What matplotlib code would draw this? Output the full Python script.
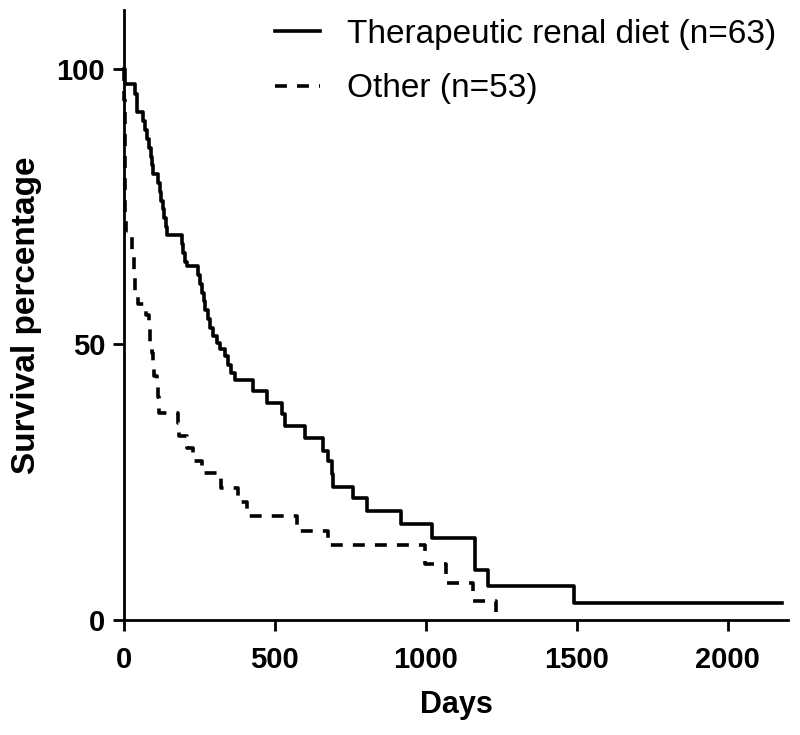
import matplotlib
matplotlib.use('Agg')
import matplotlib.pyplot as plt

plt.rcParams['font.family'] = ['Liberation Sans', 'DejaVu Sans']

# Kaplan-Meier steps: value holds from that day on
renal_days = [0, 3, 35, 42, 64, 70, 76, 82, 88, 93, 97, 114, 119, 124, 129, 134,
              138, 141, 191, 197, 203, 208, 246, 252, 258, 264, 270, 278, 285,
              296, 307, 318, 335, 345, 355, 368, 428, 473, 522, 533, 599, 660,
              675, 688, 693, 759, 804, 919, 1019, 1164, 1206, 1491, 2180]
renal_pct = [100, 97.3, 95.5, 92.1, 90.5, 88.9, 87.3, 85.7, 84.1, 82.5, 80.9,
             79.3, 77.7, 76.1, 74.5, 72.9, 71.3, 69.8, 68.2, 66.6, 65.0, 64.2,
             62.6, 61.0, 59.4, 57.8, 56.2, 54.6, 53.0, 51.5, 50.3, 49.1, 47.9,
             46.3, 44.9, 43.6, 41.5, 39.4, 37.3, 35.2, 33.0, 30.6, 28.8, 26.5,
             24.2, 22.1, 19.7, 17.5, 14.8, 9.1, 6.1, 3.0, 3.0]

other_days = [0, 1, 2, 3, 4, 5, 25, 32, 38, 45, 72, 84, 87, 92, 97, 101, 108,
              113, 117, 178, 182, 208, 229, 257, 323, 377, 408, 572, 677, 997,
              1068, 1157, 1234]
other_pct = [100, 94.3, 86.8, 79.2, 73.6, 70.3, 66.6, 62.8, 59.1, 57.3, 55.4,
             53.0, 50.3, 48.5, 46.5, 44.2, 42.2, 40.4, 37.6, 35.7, 33.4, 31.2,
             28.8, 26.7, 23.9, 21.5, 18.8, 16.2, 13.6, 10.1, 6.8, 3.4, 0]

renal_label = 'Therapeutic renal diet (n=63)'
other_label = 'Other (n=53)'
x_ticks = [0, 500, 1000, 1500, 2000]
y_ticks = [0, 50, 100]


def main():
    fig = plt.figure(figsize=(8, 7.35), dpi=100)
    ax = fig.add_axes([0.155, 0.1565, 0.83, 0.8299])

    ax.step(renal_days, renal_pct, where='post', color='black', lw=2.6,
            label=renal_label, clip_on=False)
    line_other, = ax.step(other_days, other_pct, where='post', color='black',
                          lw=2.6, label=other_label, clip_on=False)
    line_other.set_dashes((3.3, 2.8))

    ax.set_xlim(0, 2200)
    ax.set_ylim(0, 110.7)
    ax.set_xticks(x_ticks)
    ax.set_yticks(y_ticks)

    for side in ('top', 'right'):
        ax.spines[side].set_visible(False)
    for side in ('left', 'bottom'):
        ax.spines[side].set_linewidth(2.0)

    ax.tick_params(axis='both', direction='out', length=8, width=2.0,
                   labelsize=21)
    ax.tick_params(axis='x', pad=11)
    ax.tick_params(axis='y', pad=5.5)
    for lab in ax.get_xticklabels() + ax.get_yticklabels():
        lab.set_fontweight('bold')

    ax.set_xlabel('Days', fontsize=22, fontweight='bold')
    ax.set_ylabel('Survival percentage', fontsize=24, fontweight='bold')
    ax.xaxis.set_label_coords(0.5, -0.1148)
    ax.yaxis.set_label_coords(-0.1235, 0.5)

    ax.legend(loc='upper left', bbox_to_anchor=(275 / 800, 1 - 19 / 735),
              bbox_transform=fig.transFigure, frameon=False, fontsize=24,
              borderpad=0, borderaxespad=0, handlelength=1.35,
              handletextpad=0.8, labelspacing=0.7)

    fig.savefig('out.png', dpi=100)


if __name__ == '__main__':
    main()
